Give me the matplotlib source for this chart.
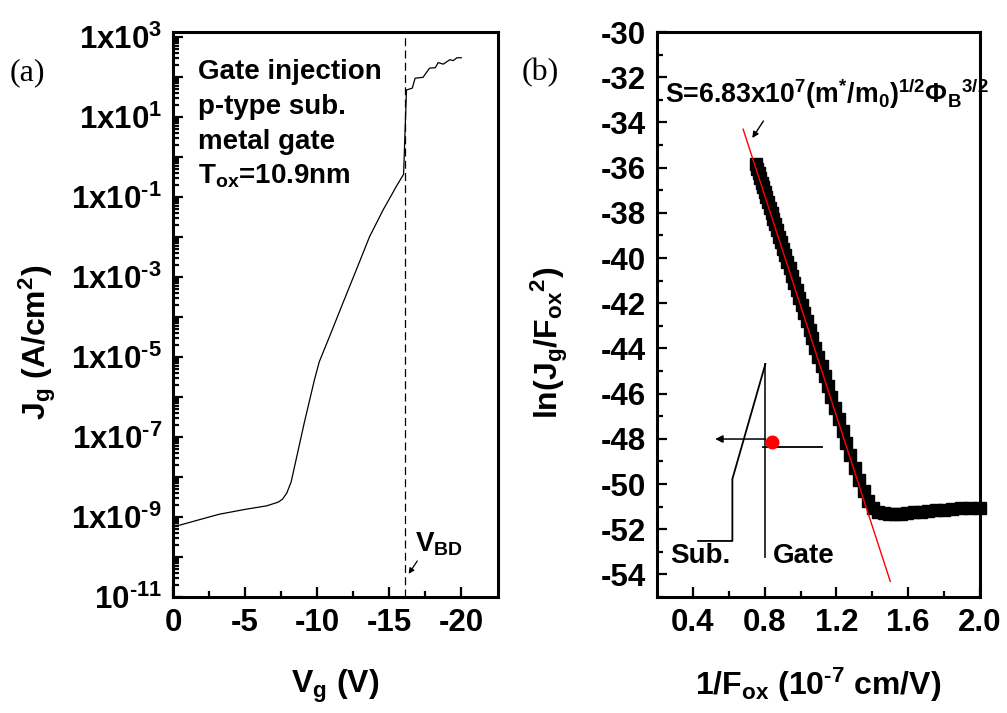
import numpy as np
import matplotlib
matplotlib.use("Agg")
import matplotlib.pyplot as plt
from matplotlib.ticker import FixedLocator, FuncFormatter, LogLocator, MultipleLocator, NullFormatter

# ---------------- data ----------------
# (a) gate current density vs gate voltage
vg = [0.0, -0.5, -1.8, -3.2, -5.0, -6.5, -7.3, -7.6, -7.9, -8.2, -9.1, -9.81, -10.15,
      -10.86, -11.78, -12.71, -13.64, -14.57, -15.49, -16.0, -16.2, -16.6, -16.8,
      -17.35, -17.8, -18.2, -18.4, -18.75, -19.2, -19.45, -19.7, -20.0]
jg = [6.0e-10, 6.3e-10, 8.5e-10, 1.17e-9, 1.55e-9, 1.9e-9, 2.35e-9, 2.8e-9, 4.0e-9,
      7.6e-9, 2.2e-7, 2.66e-6, 7.6e-6, 3.24e-5, 2.19e-4, 1.48e-3, 1.02e-2, 4.68e-2,
      0.182, 0.37, 47.3, 52.5, 93.0, 98.0, 166.0, 170.0, 229.0, 209.0, 269.0, 257.0,
      302.0, 302.0]
v_bd = -16.1

# (b) Fowler-Nordheim plot
inv_fox = [0.750, 0.758, 0.766, 0.775, 0.783, 0.792, 0.801, 0.810, 0.819, 0.829,
           0.839, 0.849, 0.859, 0.870, 0.881, 0.892, 0.903, 0.915, 0.927, 0.939,
           0.952, 0.965, 0.978, 0.992, 1.006, 1.020, 1.035, 1.050, 1.066, 1.083,
           1.099, 1.117, 1.135, 1.153, 1.172, 1.192, 1.212, 1.234, 1.255, 1.278,
           1.302, 1.326, 1.351, 1.377, 1.405, 1.433, 1.463, 1.494, 1.526, 1.560,
           1.595, 1.631, 1.670, 1.710, 1.753, 1.797, 1.844, 1.893, 1.945, 2.000]
ln_jf2 = [-35.85, -36.05, -36.24, -36.46, -36.66, -36.87, -37.09, -37.31, -37.53, -37.78,
          -38.02, -38.27, -38.51, -38.78, -39.05, -39.31, -39.58, -39.88, -40.17, -40.46,
          -40.78, -41.10, -41.41, -41.75, -42.10, -42.44, -42.80, -43.17, -43.56, -43.98,
          -44.37, -44.80, -45.24, -45.68, -46.15, -46.63, -47.12, -47.66, -48.17, -48.73,
          -49.30, -49.82, -50.33, -50.75, -51.05, -51.22, -51.30, -51.33, -51.34, -51.32,
          -51.29, -51.26, -51.23, -51.20, -51.17, -51.14, -51.11, -51.08, -51.06, -51.04]
fit_slope = -24.4
fit_intercept = -17.71
fit_range = [0.68, 1.50]

# band diagram sketch inside panel (b)
gate_line_x = [0.804, 0.804]
gate_line_y = [-44.69, -53.23]
sub_edge_x = [0.429, 0.620, 0.620, 0.804]
sub_edge_y = [-52.52, -52.52, -49.78, -44.69]
metal_level_x = [0.793, 1.117]
metal_level_y = [-48.36, -48.36]
electron_xy = (0.843, -48.14)
tunnel_start = (0.804, -48.01)
tunnel_end = (0.524, -48.01)

# ---------------- style ----------------
plt.rcParams.update({
    "font.family": ["Liberation Sans", "DejaVu Sans"],
    "font.weight": "bold",
    "axes.labelweight": "bold",
    "mathtext.fontset": "custom",
    "mathtext.rm": "Liberation Sans:bold",
    "mathtext.bf": "Liberation Sans:bold",
    "mathtext.it": "Liberation Sans:bold",
    "mathtext.default": "bf",
    "axes.unicode_minus": False,
    "axes.linewidth": 2.2,
})

TICK = 22.5
LABEL = 23
NOTE = 20
HY = "\u2010"  # short hyphen for negative exponents

fig = plt.figure(figsize=(10.07, 7.13), dpi=100)
W, H = 1007.0, 713.0
axA = fig.add_axes([173 / W, 1 - 597 / H, 325 / W, 565 / H])
axB = fig.add_axes([657 / W, 1 - 597 / H, 323 / W, 565 / H])

for ax in (axA, axB):
    ax.tick_params(which="both", direction="in", top=False, right=False,
                   width=1.6, labelsize=TICK)
    ax.tick_params(which="major", length=7.5, pad=8)
    ax.tick_params(which="minor", length=4)

# ---------------- panel (a) ----------------
axA.plot(vg, jg, color="black", lw=0.9)
axA.axvline(v_bd, color="black", lw=0.9, ls=(0, (6.4, 3.4)))
axA.set_yscale("log")
axA.set_xlim(0, -22.55)
axA.set_ylim(1e-11, 1.33e3)

axA.xaxis.set_major_locator(FixedLocator([0, -5, -10, -15, -20]))
axA.xaxis.set_minor_locator(FixedLocator([-2.5, -7.5, -12.5, -17.5]))

exps = list(range(-11, 4))
axA.yaxis.set_major_locator(FixedLocator([10.0 ** k for k in exps]))
axA.yaxis.set_minor_locator(LogLocator(base=10, subs=np.arange(2, 10), numticks=100))
axA.yaxis.set_minor_formatter(NullFormatter())


def log_label(v, pos):
    k = int(round(np.log10(v)))
    if k % 2 == 0:
        return ""
    e = (HY + str(-k)) if k < 0 else str(k)
    if k == -11:
        return r"$10^{%s}$" % e
    return r"$1x10^{%s}$" % e


axA.yaxis.set_major_formatter(FuncFormatter(log_label))

axA.set_xlabel(r"V$_g$ (V)", fontsize=LABEL, va="baseline")
axA.xaxis.set_label_coords(0.5, -0.170)
axA.set_ylabel(r"J$_g$ (A/cm$^2$)", fontsize=LABEL, va="center")
axA.yaxis.set_label_coords(-0.418, 0.451)

notes = ["Gate injection", "p-type sub.", "metal gate", r"T$_{ox}$=10.9nm"]
for i, s in enumerate(notes):
    axA.text(0.077, 0.917 - i * 0.062, s, transform=axA.transAxes,
             fontsize=NOTE, ha="left", va="baseline")

axA.text(-16.77, 10 ** -9.875, r"V$_{BD}$", fontsize=NOTE, ha="left", va="baseline")
axA.annotate("", xy=(-16.35, 10 ** -10.42), xytext=(-16.95, 10 ** -10.1),
             arrowprops=dict(arrowstyle="-|>", color="black", lw=0.9,
                             mutation_scale=8, shrinkA=0, shrinkB=0))

fig.text(10 / W, 1 - 80 / H, "(a)", fontsize=23, family="Liberation Serif",
         weight="normal", ha="left", va="baseline")

# ---------------- panel (b) ----------------
axB.plot(inv_fox, ln_jf2, ls="none", marker="s", ms=8.3, color="black",
         mec="black", clip_on=False, zorder=3)
fx = np.array(fit_range)
axB.plot(fx, fit_intercept + fit_slope * fx, color="red", lw=1.0, zorder=4)

axB.set_xlim(0.2, 2.0)
axB.set_ylim(-55, -30)
axB.xaxis.set_major_locator(FixedLocator([0.4, 0.8, 1.2, 1.6, 2.0]))
axB.xaxis.set_minor_locator(FixedLocator([0.6, 1.0, 1.4, 1.8]))
axB.yaxis.set_major_locator(MultipleLocator(2))
axB.yaxis.set_minor_locator(MultipleLocator(1))

axB.set_xlabel(r"1/F$_{ox}$ (10$^{%s7}$ cm/V)" % HY, fontsize=LABEL, va="baseline")
axB.xaxis.set_label_coords(0.5, -0.173)
axB.set_ylabel(r"ln(J$_g$/F$_{ox}$$^{2}$)", fontsize=LABEL, va="center")
axB.yaxis.set_label_coords(-0.334, 0.45)

axB.text(0.245, -33.14,
         r"S=6.83x10$^{7}$(m$^{*}$/m$_{0}$)$^{1/2}$$\Phi_{B}$$^{3/2}$",
         fontsize=19.2, ha="left", va="baseline")
axB.annotate("", xy=(0.731, -34.69), xytext=(0.793, -33.94),
             arrowprops=dict(arrowstyle="-|>", color="black", lw=1.0,
                             mutation_scale=9, shrinkA=0, shrinkB=0))

axB.plot(gate_line_x, gate_line_y, color="#222222", lw=1.3)
axB.plot(sub_edge_x, sub_edge_y, color="black", lw=1.3)
axB.plot(metal_level_x, metal_level_y, color="black", lw=1.3)
axB.annotate("", xy=tunnel_end, xytext=tunnel_start,
             arrowprops=dict(arrowstyle="-|>", color="black", lw=1.1,
                             mutation_scale=11, shrinkA=0, shrinkB=0))
axB.plot(*electron_xy, marker="o", ms=9, color="red", mec="red", zorder=5)
axB.text(0.273, -53.5, "Sub.", fontsize=NOTE, ha="left", va="baseline")
axB.text(0.843, -53.5, "Gate", fontsize=NOTE, ha="left", va="baseline")

fig.text(522 / W, 1 - 80 / H, "(b)", fontsize=23, family="Liberation Serif",
         weight="normal", ha="left", va="baseline")

fig.savefig("out.png", dpi=100)
